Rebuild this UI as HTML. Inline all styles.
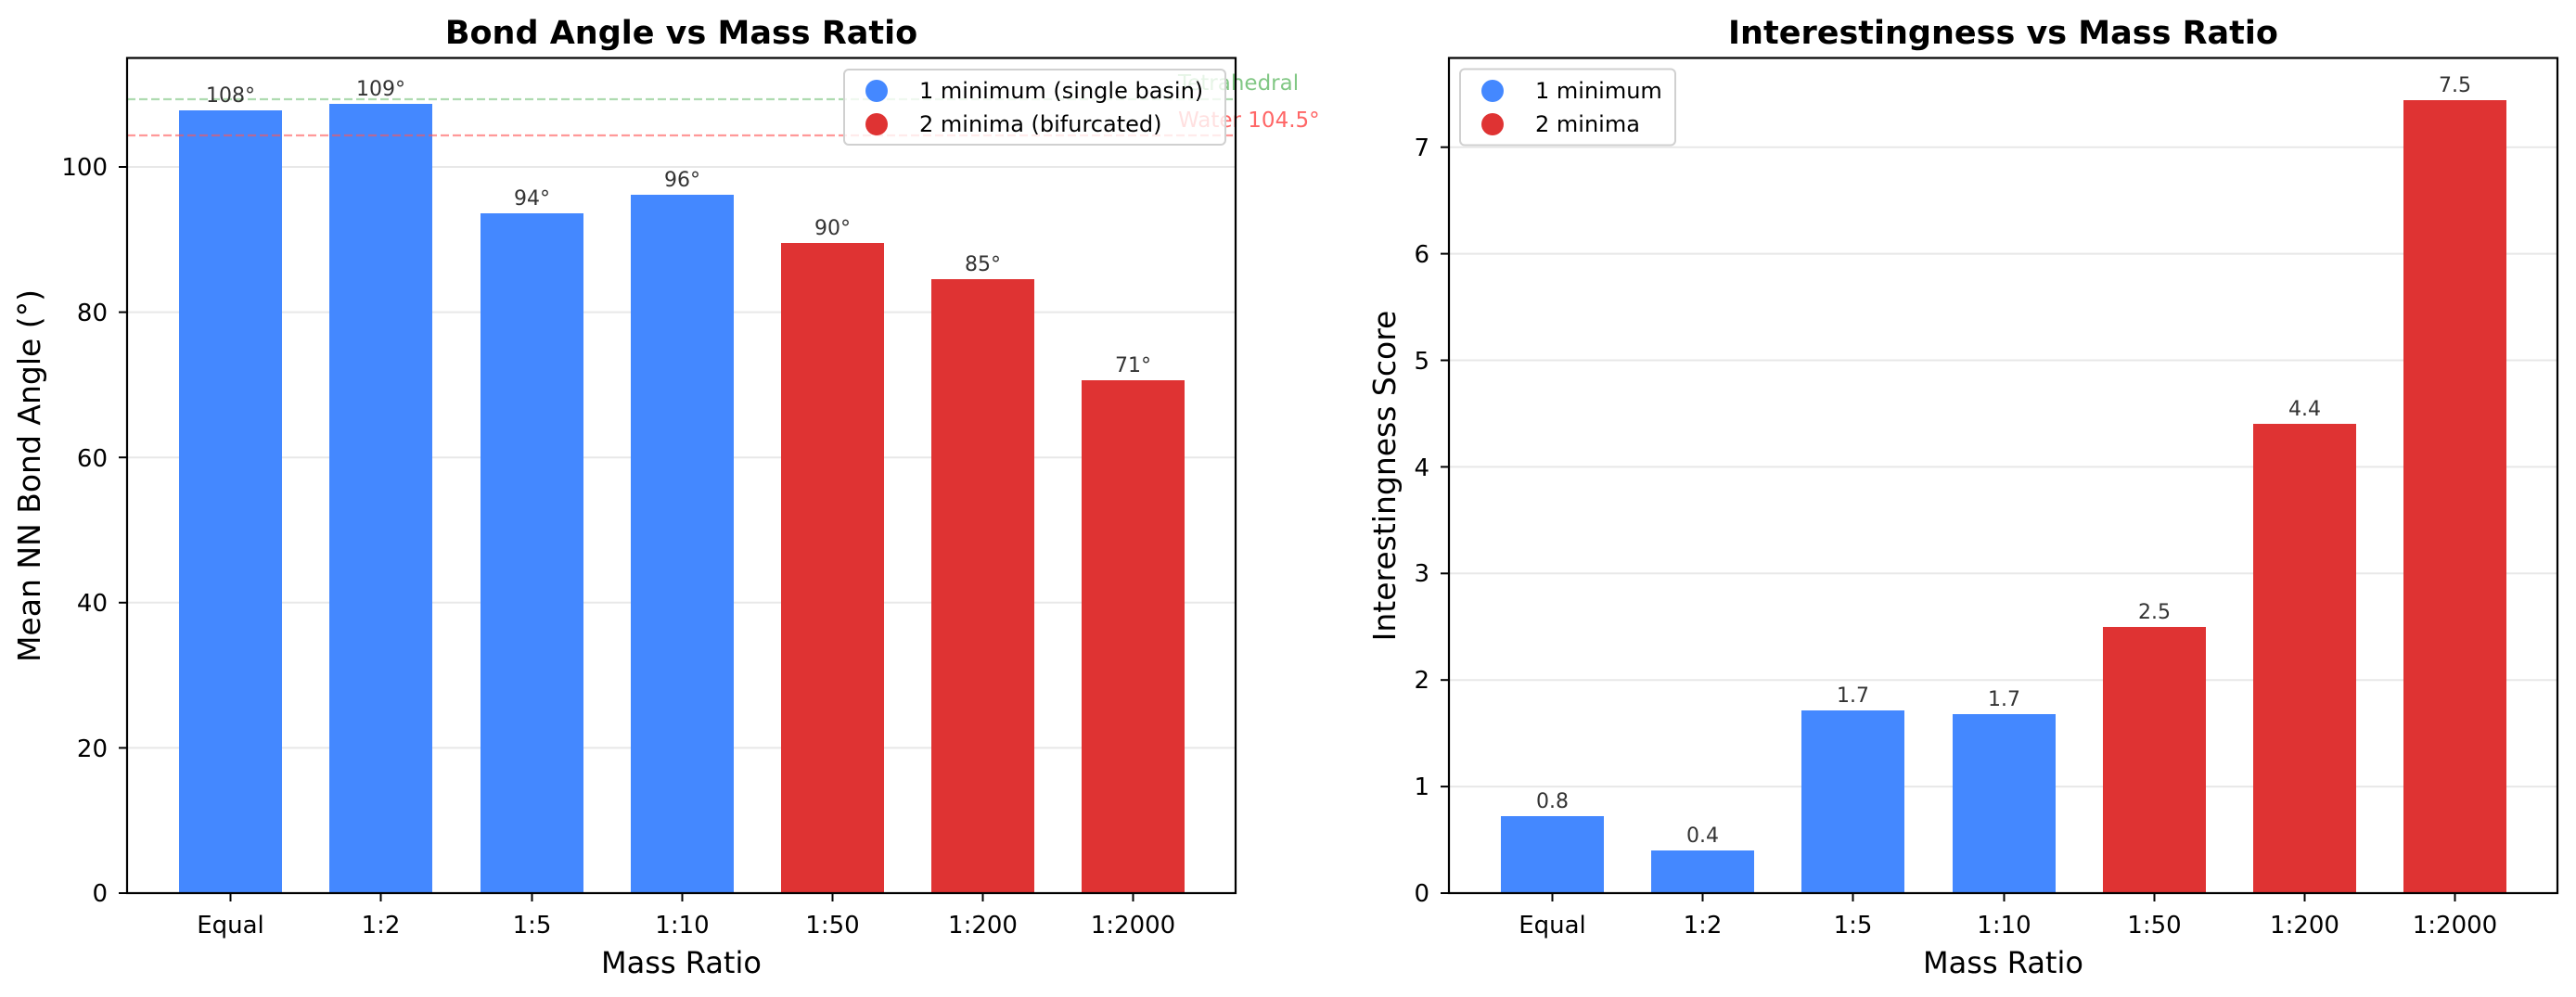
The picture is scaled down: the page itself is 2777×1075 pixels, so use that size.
<!DOCTYPE html>
<html><head><meta charset="utf-8"><style>
html,body{margin:0;padding:0;background:#fff;}
svg{display:block;font-family:"DejaVu Sans","Liberation Sans",sans-serif;}
</style></head><body>
<svg width="2777" height="1075" viewBox="0 0 2777 1075" xmlns="http://www.w3.org/2000/svg">
<rect width="2777" height="1075" fill="#fff"/>

<!-- ============ LEFT CHART ============ -->
<g stroke="#e8e8e8" stroke-width="2">
<line x1="137" x2="1332" y1="806.4" y2="806.4"/>
<line x1="137" x2="1332" y1="649.8" y2="649.8"/>
<line x1="137" x2="1332" y1="493.2" y2="493.2"/>
<line x1="137" x2="1332" y1="336.6" y2="336.6"/>
<line x1="137" x2="1332" y1="180" y2="180"/>
</g>
<g fill="#4488ff">
<rect x="193" y="119" width="111" height="844"/>
<rect x="355" y="112" width="111" height="851"/>
<rect x="518" y="230" width="111" height="733"/>
<rect x="680" y="210" width="111" height="753"/>
</g>
<g fill="#df3333">
<rect x="842" y="262" width="111" height="701"/>
<rect x="1004" y="301" width="111" height="662"/>
<rect x="1166" y="410" width="111" height="553"/>
</g>
<line x1="137" x2="1332" y1="107" y2="107" stroke="#4caf50" stroke-opacity="0.45" stroke-width="2.2" stroke-dasharray="9,4"/>
<line x1="137" x2="1332" y1="146" y2="146" stroke="#ff5555" stroke-opacity="0.6" stroke-width="2.2" stroke-dasharray="9,4"/>
<g font-size="23">
<text x="1270" y="97" fill="#4caf50" fill-opacity="0.7">Tetrahedral</text>
<text x="1270" y="137" fill="#ff5555" fill-opacity="0.9">Water 104.5°</text>
</g>
<g font-size="22" fill="#333" text-anchor="middle">
<text x="248.5" y="110">108°</text>
<text x="410.5" y="103">109°</text>
<text x="573.5" y="221">94°</text>
<text x="735.5" y="201">96°</text>
<text x="897.5" y="253">90°</text>
<text x="1059.5" y="292">85°</text>
<text x="1221.5" y="401">71°</text>
</g>
<!-- legend -->
<rect x="910" y="75" width="411" height="81" rx="5" fill="#fff" fill-opacity="0.8" stroke="#d0d0d0" stroke-width="2"/>
<circle cx="945" cy="98" r="12" fill="#4488ff"/>
<circle cx="945" cy="134" r="12" fill="#df3333"/>
<g font-size="24" fill="#000">
<text x="991" y="106">1 minimum (single basin)</text>
<text x="991" y="142">2 minima (bifurcated)</text>
</g>
<rect x="137" y="62.5" width="1195" height="900.5" fill="none" stroke="#000" stroke-width="2.2"/>
<g stroke="#000" stroke-width="2">
<line x1="128" x2="137" y1="963" y2="963"/><line x1="128" x2="137" y1="806.4" y2="806.4"/>
<line x1="128" x2="137" y1="649.8" y2="649.8"/><line x1="128" x2="137" y1="493.2" y2="493.2"/>
<line x1="128" x2="137" y1="336.6" y2="336.6"/><line x1="128" x2="137" y1="180" y2="180"/>
<line x1="248.5" x2="248.5" y1="963" y2="972"/><line x1="410.5" x2="410.5" y1="963" y2="972"/>
<line x1="573.5" x2="573.5" y1="963" y2="972"/><line x1="735.5" x2="735.5" y1="963" y2="972"/>
<line x1="897.5" x2="897.5" y1="963" y2="972"/><line x1="1059.5" x2="1059.5" y1="963" y2="972"/>
<line x1="1221.5" x2="1221.5" y1="963" y2="972"/>
</g>
<g font-size="26" text-anchor="end">
<text x="116" y="972">0</text><text x="116" y="816">20</text><text x="116" y="659">40</text>
<text x="116" y="503">60</text><text x="116" y="346">80</text><text x="116" y="189">100</text>
</g>
<g font-size="26" text-anchor="middle">
<text x="248.5" y="1006">Equal</text><text x="410.5" y="1006">1:2</text><text x="573.5" y="1006">1:5</text>
<text x="735.5" y="1006">1:10</text><text x="897.5" y="1006">1:50</text><text x="1059.5" y="1006">1:200</text>
<text x="1221.5" y="1006">1:2000</text>
</g>
<text x="734.5" y="1049" font-size="32" text-anchor="middle">Mass Ratio</text>
<text transform="translate(43,513) rotate(-90)" font-size="33" text-anchor="middle">Mean NN Bond Angle (°)</text>
<text x="734.5" y="47" font-size="35" font-weight="bold" text-anchor="middle">Bond Angle vs Mass Ratio</text>

<!-- ============ RIGHT CHART ============ -->
<g stroke="#e8e8e8" stroke-width="2">
<line x1="1562" x2="2757" y1="848.1" y2="848.1"/>
<line x1="1562" x2="2757" y1="733.2" y2="733.2"/>
<line x1="1562" x2="2757" y1="618.3" y2="618.3"/>
<line x1="1562" x2="2757" y1="503.4" y2="503.4"/>
<line x1="1562" x2="2757" y1="388.5" y2="388.5"/>
<line x1="1562" x2="2757" y1="273.6" y2="273.6"/>
<line x1="1562" x2="2757" y1="158.7" y2="158.7"/>
</g>
<g fill="#4488ff">
<rect x="1618" y="880" width="111" height="83"/>
<rect x="1780" y="917" width="111" height="46"/>
<rect x="1942" y="766" width="111" height="197"/>
<rect x="2105" y="770" width="111" height="193"/>
</g>
<g fill="#df3333">
<rect x="2267" y="676" width="111" height="287"/>
<rect x="2429" y="457" width="111" height="506"/>
<rect x="2591" y="108" width="111" height="855"/>
</g>
<g font-size="22" fill="#333" text-anchor="middle">
<text x="1673.5" y="871">0.8</text>
<text x="1835.5" y="908">0.4</text>
<text x="1997.5" y="757">1.7</text>
<text x="2160.5" y="761">1.7</text>
<text x="2322.5" y="667">2.5</text>
<text x="2484.5" y="448">4.4</text>
<text x="2646.5" y="99">7.5</text>
</g>
<rect x="1574" y="74.5" width="232" height="82" rx="5" fill="#fff" fill-opacity="0.8" stroke="#d0d0d0" stroke-width="2"/>
<circle cx="1609" cy="98" r="12" fill="#4488ff"/>
<circle cx="1609" cy="134" r="12" fill="#df3333"/>
<g font-size="24" fill="#000">
<text x="1655" y="106">1 minimum</text>
<text x="1655" y="142">2 minima</text>
</g>
<rect x="1562" y="62.5" width="1195" height="900.5" fill="none" stroke="#000" stroke-width="2.2"/>
<g stroke="#000" stroke-width="2">
<line x1="1553" x2="1562" y1="963" y2="963"/><line x1="1553" x2="1562" y1="848.1" y2="848.1"/>
<line x1="1553" x2="1562" y1="733.2" y2="733.2"/><line x1="1553" x2="1562" y1="618.3" y2="618.3"/>
<line x1="1553" x2="1562" y1="503.4" y2="503.4"/><line x1="1553" x2="1562" y1="388.5" y2="388.5"/>
<line x1="1553" x2="1562" y1="273.6" y2="273.6"/><line x1="1553" x2="1562" y1="158.7" y2="158.7"/>
<line x1="1673.5" x2="1673.5" y1="963" y2="972"/><line x1="1835.5" x2="1835.5" y1="963" y2="972"/>
<line x1="1997.5" x2="1997.5" y1="963" y2="972"/><line x1="2160.5" x2="2160.5" y1="963" y2="972"/>
<line x1="2322.5" x2="2322.5" y1="963" y2="972"/><line x1="2484.5" x2="2484.5" y1="963" y2="972"/>
<line x1="2646.5" x2="2646.5" y1="963" y2="972"/>
</g>
<g font-size="26" text-anchor="end">
<text x="1541" y="972">0</text><text x="1541" y="857">1</text><text x="1541" y="742">2</text>
<text x="1541" y="627">3</text><text x="1541" y="513">4</text><text x="1541" y="398">5</text>
<text x="1541" y="283">6</text><text x="1541" y="168">7</text>
</g>
<g font-size="26" text-anchor="middle">
<text x="1673.5" y="1006">Equal</text><text x="1835.5" y="1006">1:2</text><text x="1997.5" y="1006">1:5</text>
<text x="2160.5" y="1006">1:10</text><text x="2322.5" y="1006">1:50</text><text x="2484.5" y="1006">1:200</text>
<text x="2646.5" y="1006">1:2000</text>
</g>
<text x="2159.5" y="1049" font-size="32" text-anchor="middle">Mass Ratio</text>
<text transform="translate(1504,513) rotate(-90)" font-size="33" text-anchor="middle">Interestingness Score</text>
<text x="2159.5" y="47" font-size="35" font-weight="bold" text-anchor="middle">Interestingness vs Mass Ratio</text>
</svg>
</body></html>
